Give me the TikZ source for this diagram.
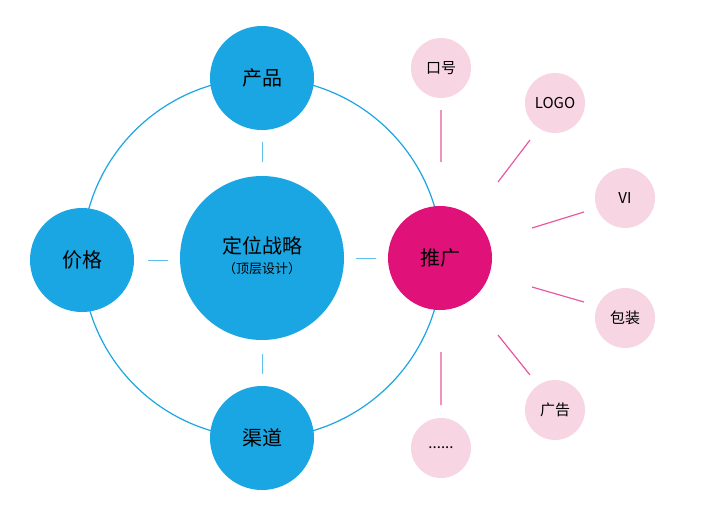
\documentclass[tikz,border=0pt]{standalone}
\usepackage{fontspec}
\setmainfont{Noto Sans CJK SC}
\begin{document}
\begin{tikzpicture}[x=1pt,y=-1pt,
  blue/.style={circle,fill=cyan!70!blue!80,text=black,minimum size=104pt,inner sep=0pt,font=\fontsize{20}{22}\selectfont},
  pinkc/.style={circle,fill=pink!60!white,text=black,minimum size=60pt,inner sep=0pt,font=\fontsize{15}{17}\selectfont},
  link/.style={draw=cyan!50,line width=1pt},
  plink/.style={draw=magenta!70!red,line width=1.2pt}]
\definecolor{cb}{HTML}{1AA6E2}
\definecolor{mg}{HTML}{E0127A}
\definecolor{pk}{HTML}{F7D5E3}
\useasboundingbox (0,0) rectangle (704,528);
\draw[cb,line width=1.2pt] (262,258) circle (180);
\node[blue,fill=cb,minimum size=164pt] (c) at (262,258) {\begin{tabular}{c}定位战略\\[-2pt]{\fontsize{13}{14}\selectfont （顶层设计）}\end{tabular}};
\node[blue,fill=cb] (p) at (262,78) {产品};
\node[blue,fill=cb] (q) at (262,438) {渠道};
\node[blue,fill=cb] (j) at (82,260) {价格};
\node[blue,fill=mg] (t) at (440,258) {推广};
\draw[link,draw=cb!70] (262,142)--(262,162) (262,354)--(262,374) (148,260)--(168,260) (356,258)--(376,258);
\node[pinkc,fill=pk] (a1) at (441,68) {口号};
\node[pinkc,fill=pk] (a2) at (555,103) {LOGO};
\node[pinkc,fill=pk] (a3) at (625,198) {VI};
\node[pinkc,fill=pk] (a4) at (625,318) {包装};
\node[pinkc,fill=pk] (a5) at (555,410) {广告};
\node[pinkc,fill=pk] (a6) at (441,448) {......};
\draw[plink,draw=mg!70] (441,110)--(441,162) (530,140)--(498,182) (584,212)--(532,228) (584,302)--(532,287) (530,375)--(498,335) (441,352)--(441,405);
\end{tikzpicture}
\end{document}
